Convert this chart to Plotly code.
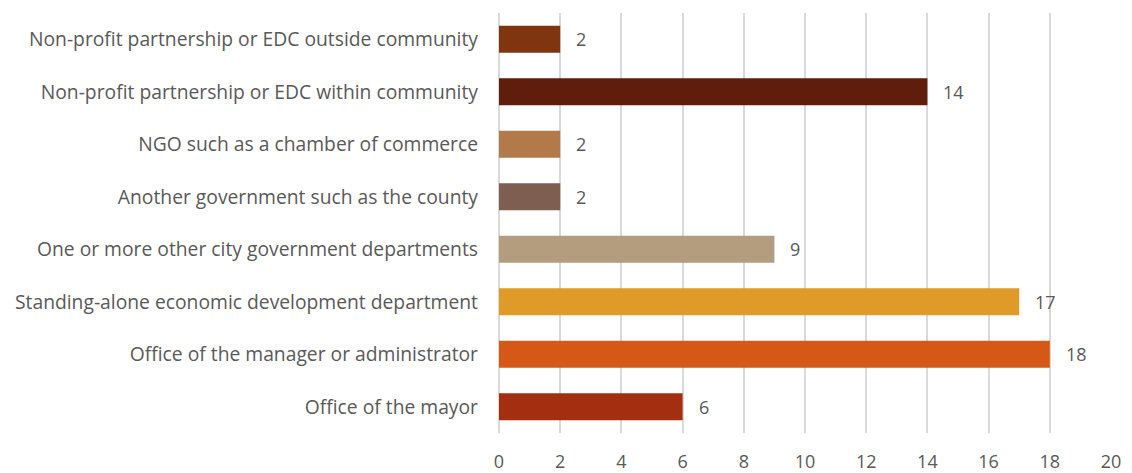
import plotly.graph_objects as go

# Categories listed bottom-to-top as drawn on the y axis
categories = [
    "Office of the mayor",
    "Office of the manager or administrator",
    "Standing-alone economic development department",
    "One or more other city government departments",
    "Another government such as the county",
    "NGO such as a chamber of commerce",
    "Non-profit partnership or EDC within community",
    "Non-profit partnership or EDC outside community",
]
counts = [6, 18, 17, 9, 2, 2, 14, 2]
bar_colors = [
    "#A32E10",
    "#D55817",
    "#E09A27",
    "#B39D7E",
    "#7D5E50",
    "#B27A48",
    "#5F1E0B",
    "#7F3510",
]
x_ticks = list(range(0, 21, 2))

text_color = "#595959"
font_family = "Open Sans, Liberation Sans, sans-serif"

fig = go.Figure(
    go.Bar(
        x=counts,
        y=categories,
        orientation="h",
        marker=dict(color=bar_colors, line=dict(width=0)),
        width=0.51,
        hoverinfo="skip",
    )
)

# Value labels just past the end of each bar
for cat, val in zip(categories, counts):
    fig.add_annotation(
        x=val, y=cat, text=str(val), showarrow=False,
        xanchor="left", xshift=14,
        font=dict(size=18, color=text_color, family=font_family),
    )

fig.update_layout(
    width=1132, height=473,
    margin=dict(l=499, r=21, t=13, b=40, autoexpand=False),
    paper_bgcolor="white", plot_bgcolor="white",
    showlegend=False,
    bargap=0.49,
    font=dict(family=font_family, color=text_color, size=18),
)
fig.update_xaxes(
    range=[0, 20], tickvals=x_ticks, automargin=False,
    showgrid=True, gridcolor="#D9D9D9", gridwidth=2,
    zeroline=True, zerolinecolor="#D9D9D9", zerolinewidth=2,
    showline=False, ticks="", ticklabelstandoff=16,
    tickfont=dict(size=18, color=text_color),
)
fig.update_yaxes(
    showgrid=False, zeroline=False, showline=False, automargin=False,
    ticks="", ticklabelstandoff=20,
    tickfont=dict(size=19.3, color=text_color),
)

fig.write_html("out.html")
